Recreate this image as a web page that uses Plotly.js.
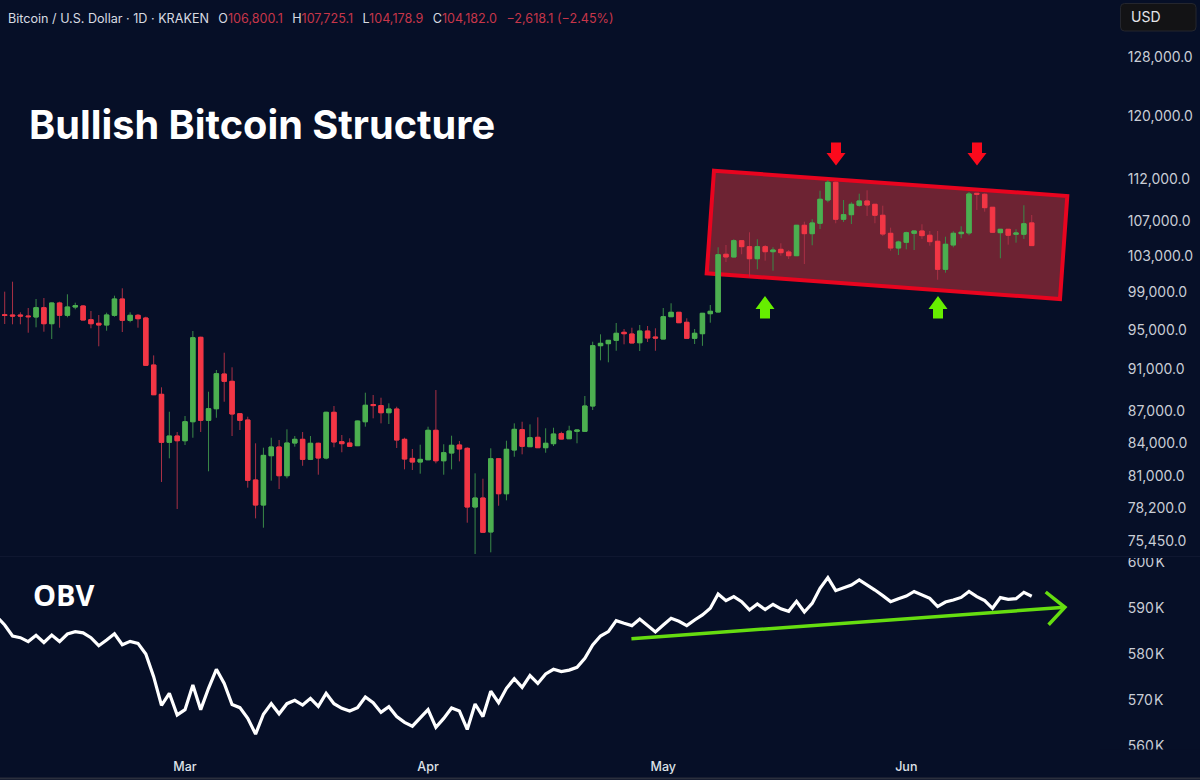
<!DOCTYPE html>
<html>
<head>
<meta charset="utf-8">
<script src="https://cdn.plot.ly/plotly-3.0.1.min.js"></script>
<style>html,body{margin:0;padding:0;background:#060f27}#chart{width:1200px;height:780px}</style>
</head>
<body>
<div id="chart"></div>
<script>
const firstDay = '2025-02-06';
const priceOpen = [96610,96578,96578,96472,96366,97350,95664,97852,96546,97425,97532,96082,95705,95528,96546,98280,96019,96546,96260,91443,88563,84040,84620,84186,85951,94252,86082,87180,90548,89829,86706,86110,80652,78477,82820,83610,81030,83975,84315,82490,83950,82610,86840,84095,83975,83730,85950,87580,87480,86800,87150,84315,82580,82250,82455,85150,82365,83065,83794,83490,78305,79080,76200,82545,79450,83337,85205,83640,84500,83547,83915,84835,84370,85055,85055,87440,93393,93600,93943,94770,94594,93695,94900,94284,94077,96398,96862,95810,94150,94625,96715,96895,103200,102895,104743,104060,102700,104060,103490,103760,103458,103040,106521,105550,106755,109504,111640,107220,107760,108875,109385,108990,107690,105590,103910,104560,105590,105860,105365,104675,101520,104253,105550,105630,110305,110190,108635,105665,106055,105480,105480,106800.1];
const priceHigh = [99070,100155,96862,97318,98280,98388,97884,97991,98786,97884,97639,96999,96578,96820,98636,99435,96862,96683,96398,92408,89243,86895,84990,86488,94903,94314,88815,90944,92680,91214,86744,86420,83948,83547,84463,84250,85240,84620,84990,84620,84005,86895,87440,84715,84405,86045,88720,88495,88235,87695,87370,84463,83430,83820,85485,88979,83860,84650,84160,83585,81240,80765,83490,82610,84186,85800,85950,85705,86365,85335,85390,85015,85575,85240,88400,93800,94560,93974,95740,95110,95246,95528,95425,95183,97318,97820,96895,96230,95110,96790,97640,103990,104253,104905,104823,105710,104905,104253,103990,104445,103683,106555,106940,107220,110620,111924,111720,109504,109230,110260,110670,109030,108825,106240,104740,105780,105860,106640,105860,105860,105200,105825,106405,110465,110345,110305,108670,106090,106090,106055,108875,107725.1];
const priceLow = [95630,95600,95600,94727,95288,94831,94077,95246,96335,97180,96050,95183,93330,94934,96398,94800,95810,95246,91373,88490,80477,82583,78134,83794,84463,84990,81420,86325,87850,84620,85175,79977,77340,76557,80590,79863,80800,83640,81915,82428,81120,82490,83585,83130,83640,83700,85485,86270,85800,85735,83520,81595,81534,81210,82428,82135,81120,81595,82310,76975,74390,76175,74525,78415,78880,82725,82945,83610,83530,83090,83700,84315,84340,83950,84990,87056,91913,91713,92880,93535,93670,92850,93770,92880,94077,96398,95768,94150,93565,93380,95768,96862,102335,102860,103200,100700,101520,102480,101365,103040,102670,103040,102110,104220,106090,109230,106755,106905,106670,108710,107610,106755,105280,103600,103120,103760,103683,104940,104173,100370,101145,103990,105020,105365,108315,108115,105665,102750,104290,104515,104940,104178.9];
const priceClose = [96525,96472,96472,96398,97350,95664,97852,96546,97425,97564,96050,95664,95528,96578,98280,96019,96546,96187,91413,88524,84040,84620,84186,85951,94211,86082,87180,90578,89829,86678,86082,80626,78477,82850,83610,81030,83975,84315,82490,83950,82610,86840,84070,83915,83675,86015,87510,87480,86800,87150,84250,82520,82250,82490,85150,82365,83090,83765,83430,78305,79080,76175,82545,79450,83400,85240,83675,84463,83547,83950,84805,84340,85080,85175,87440,93393,93635,93943,94665,94625,93670,94900,94180,94180,96398,96862,95768,94150,94665,96757,96967,103154,102895,104743,104060,102700,104060,103490,103683,103380,103040,106521,105550,106790,109590,111640,107220,107760,108990,109385,108910,107690,105510,103910,104595,105660,105860,105320,104630,101520,104333,105590,105710,110225,110190,108590,105710,106055,105365,105630,106700,104182];
const obvValues = [588.1,586.3,583.9,583.55,582.7,584.06,582.5,584.1,582.7,584.35,584.85,584.6,583.55,581.8,583.05,584.4,582.0,582.75,582.3,580.0,575.07,568.84,571.45,566.75,567.9,573.26,567.9,572.54,576.67,573.6,569.0,568.33,566.0,562.6,566.9,569.2,567.0,569.2,569.93,568.9,570.36,568.6,571.45,569.2,568.2,567.6,568.33,570.65,569.4,567.3,568.55,566.4,565.14,564.3,566.1,567.9,564.06,566.0,568.26,567.6,563.6,569.13,566.4,571.9,569.4,572.54,574.64,572.75,575.3,573.6,575.65,576.67,576.16,576.5,577.1,579.06,581.96,583.9,584.86,587.25,586.67,586.16,587.6,586.16,584.8,586.3,587.75,587.1,586.16,587.4,588.5,589.93,593.04,591.6,592.46,591.38,589.57,590.87,589.64,590.8,589.8,589.28,591.45,589.13,591.0,594.28,596.6,593.77,594.35,595.0,596.09,595.07,593.9,592.68,591.38,592.03,592.6,593.6,592.9,592.1,590.3,591.3,591.74,592.3,593.6,592.46,591.6,589.93,592.25,591.88,592.03,593.4,592.54];
const priceTicks = [128000,120000,112000,107000,103000,99000,95000,91000,87000,84000,81000,78200,75450];
const obvTicks = [600,590,580,570,560];
const monthTicks = ['2025-03-01','2025-04-01','2025-05-01','2025-06-01'];
const monthLabels = ['Mar','Apr','May','Jun'];

const W = 1124, H = 750, BG = '#060f27';
const X = p => p / W, Y = p => 1 - p / H;
const DAY = 86400000;
const dayAt = i => new Date(Date.parse(firstDay + 'T00:00:00Z') + i * DAY).toISOString().slice(0, 10);
const dates = priceOpen.map((_, i) => dayAt(i));
const obvDates = obvValues.map((_, i) => dayAt(i - 1));

const GREEN = '#4caf50', RED = '#f23645', GW = '#3a8a48', RW = '#a93045';
const wicks = {
  type: 'candlestick', x: dates, open: priceOpen, high: priceHigh, low: priceLow, close: priceClose,
  xaxis: 'x', yaxis: 'y', hoverinfo: 'skip', showlegend: false,
  increasing: {line: {color: GW, width: 1}, fillcolor: GREEN},
  decreasing: {line: {color: RW, width: 1}, fillcolor: RED}
};
const bodies = {
  type: 'candlestick', x: dates, open: priceOpen, close: priceClose,
  high: priceOpen.map((o, i) => Math.max(o, priceClose[i])),
  low: priceOpen.map((o, i) => Math.min(o, priceClose[i])),
  xaxis: 'x', yaxis: 'y', hoverinfo: 'skip', showlegend: false,
  increasing: {line: {color: GREEN, width: 1}, fillcolor: GREEN},
  decreasing: {line: {color: RED, width: 1}, fillcolor: RED}
};
const obvLine = {
  type: 'scatter', mode: 'lines', x: obvDates, y: obvValues, xaxis: 'x', yaxis: 'y2',
  hoverinfo: 'skip', showlegend: false, line: {color: '#ffffff', width: 3.2}
};

const poly = pts => 'M' + pts.map(p => X(p[0]) + ',' + Y(p[1])).join('L');
const closed = pts => poly(pts) + 'Z';
const downArrow = (c) => closed([[c-5,142.5],[c+5,142.5],[c+5,153],[c+9.5,153],[c,165.5],[c-9.5,153],[c-5,153]]);
const upArrow = (c) => closed([[c-5,318.5],[c+5,318.5],[c+5,309],[c+9.5,309],[c,296],[c-9.5,309],[c-5,309]]);
const paperShape = (o) => Object.assign({type:'path', xref:'paper', yref:'paper'}, o);
const rr = (x0,y0,x1,y1) => [
  `M${X(x0+4)},${Y(y0)}L${X(x1-4)},${Y(y0)}Q${X(x1)},${Y(y0)} ${X(x1)},${Y(y0+4)}`,
  `L${X(x1)},${Y(y1-4)}Q${X(x1)},${Y(y1)} ${X(x1-4)},${Y(y1)}`,
  `L${X(x0+4)},${Y(y1)}Q${X(x0)},${Y(y1)} ${X(x0)},${Y(y1-4)}`,
  `L${X(x0)},${Y(y0+4)}Q${X(x0)},${Y(y0)} ${X(x0+4)},${Y(y0)}Z`].join('');

const shapes = [
  paperShape({layer:'below', path: closed([[714,170.7],[1067.3,196],[1060,299],[706.7,273.3]]), fillcolor:'#6d2333', line:{color:'#e8041f', width:4}}),
  paperShape({layer:'above', path: downArrow(836), fillcolor:'#fb0a1c', line:{width:0}}),
  paperShape({layer:'above', path: downArrow(977), fillcolor:'#fb0a1c', line:{width:0}}),
  paperShape({layer:'above', path: upArrow(765), fillcolor:'#66ee00', line:{width:0}}),
  paperShape({layer:'above', path: upArrow(938), fillcolor:'#66ee00', line:{width:0}}),
  paperShape({layer:'above', path: poly([[631.4,638.7],[1064.9,607.3]]), line:{color:'#66dd10', width:3.5}}),
  paperShape({layer:'above', path: poly([[1045.7,592],[1064.9,607.3],[1048.6,624.7]]), line:{color:'#66dd10', width:3.5}}),
  paperShape({layer:'above', path: closed([[1100,549],[1200,549],[1200,558],[1100,558]]), fillcolor:BG, line:{width:0}}),
  paperShape({layer:'above', path: closed([[1100,749.5],[1200,749.5],[1200,776],[1100,776]]), fillcolor:BG, line:{width:0}}),
  paperShape({layer:'above', path: poly([[0,556.5],[1200,556.5]]), line:{color:'#0f1730', width:1}}),
  paperShape({layer:'above', path: poly([[0,778.5],[1200,778.5]]), line:{color:'#2a2f3d', width:2}}),
  paperShape({layer:'above', path: rr(1120.5,3.5,1196,31), fillcolor:'#131315', line:{color:'#24262e', width:1}})
];

const DIM = '#d8dbe2', VAL = '#c7364a';
const sp = (c, t) => `<span style="color:${c}">${t}</span>`;
const gap = '\u00a0\u00a0\u2009';
const header = sp(DIM,'Bitcoin / U.S. Dollar · 1D · KRAKEN') + gap +
  sp(DIM,'O') + sp(VAL,'106,800.1') + gap + sp(DIM,'H') + sp(VAL,'107,725.1') + gap +
  sp(DIM,'L') + sp(VAL,'104,178.9') + gap + sp(DIM,'C') + sp(VAL,'104,182.0') + gap +
  sp(VAL,'−2,618.1 (−2.45%)');
const ann = (px, py, text, font) => ({xref:'paper', yref:'paper', x:X(px), y:Y(py), text, font,
  showarrow:false, xanchor:'left', yanchor:'middle', align:'left', borderpad:0});

const annotations = [
  ann(7, 18, header, {family:'Inter', size:12.6, color:DIM}),
  ann(27.5, 125, 'Bullish Bitcoin Structure', {family:'Inter', size:39.7, color:'#ffffff', weight:700}),
  ann(32, 594, 'OBV', {family:'Open Sans', size:29, color:'#ffffff', weight:700}),
  ann(1130, 17, 'USD', {family:'Inter', size:14, color:'#e3e5ea'})
];

const tickFont = {family:'Inter', size:14, color:'#c9cdd6'};
const layout = {
  width:1200, height:780, margin:{l:0, r:76, t:0, b:30},
  paper_bgcolor:BG, plot_bgcolor:BG, showlegend:false, boxmode:'overlay', boxgap:0.2,
  xaxis:{type:'date', domain:[0,1], anchor:'y2', range:['2025-02-05 09:36','2025-06-28 18:30'],
    rangeslider:{visible:false}, showgrid:false, zeroline:false, showline:false,
    tickmode:'array', tickvals:monthTicks, ticktext:monthLabels, ticks:'outside', ticklen:5, tickcolor:BG,
    tickfont:{family:'Inter', size:12.5, color:'#dfe2e8', weight:500}},
  yaxis:{type:'log', domain:[Y(556),1], anchor:'x', side:'right', range:[4.87056,5.13429],
    showgrid:false, zeroline:false, showline:false, ticks:'outside', ticklen:0, tickcolor:BG,
    tickmode:'array', tickvals:priceTicks, ticktext:priceTicks.map(v=>v.toLocaleString('en-US',{minimumFractionDigits:1})), tickfont:tickFont},
  yaxis2:{type:'linear', domain:[0,Y(556)], anchor:'x', side:'right', range:[559.13,601.3],
    showgrid:false, zeroline:false, showline:false, ticks:'outside', ticklen:0, tickcolor:BG,
    tickmode:'array', tickvals:obvTicks, ticktext:obvTicks.map(v=>v+'\u200aK'), tickfont:tickFont},
  shapes, annotations
};
Plotly.newPlot('chart', [wicks, bodies, obvLine], layout, {displayModeBar:false, staticPlot:true});
</script>
</body>
</html>
